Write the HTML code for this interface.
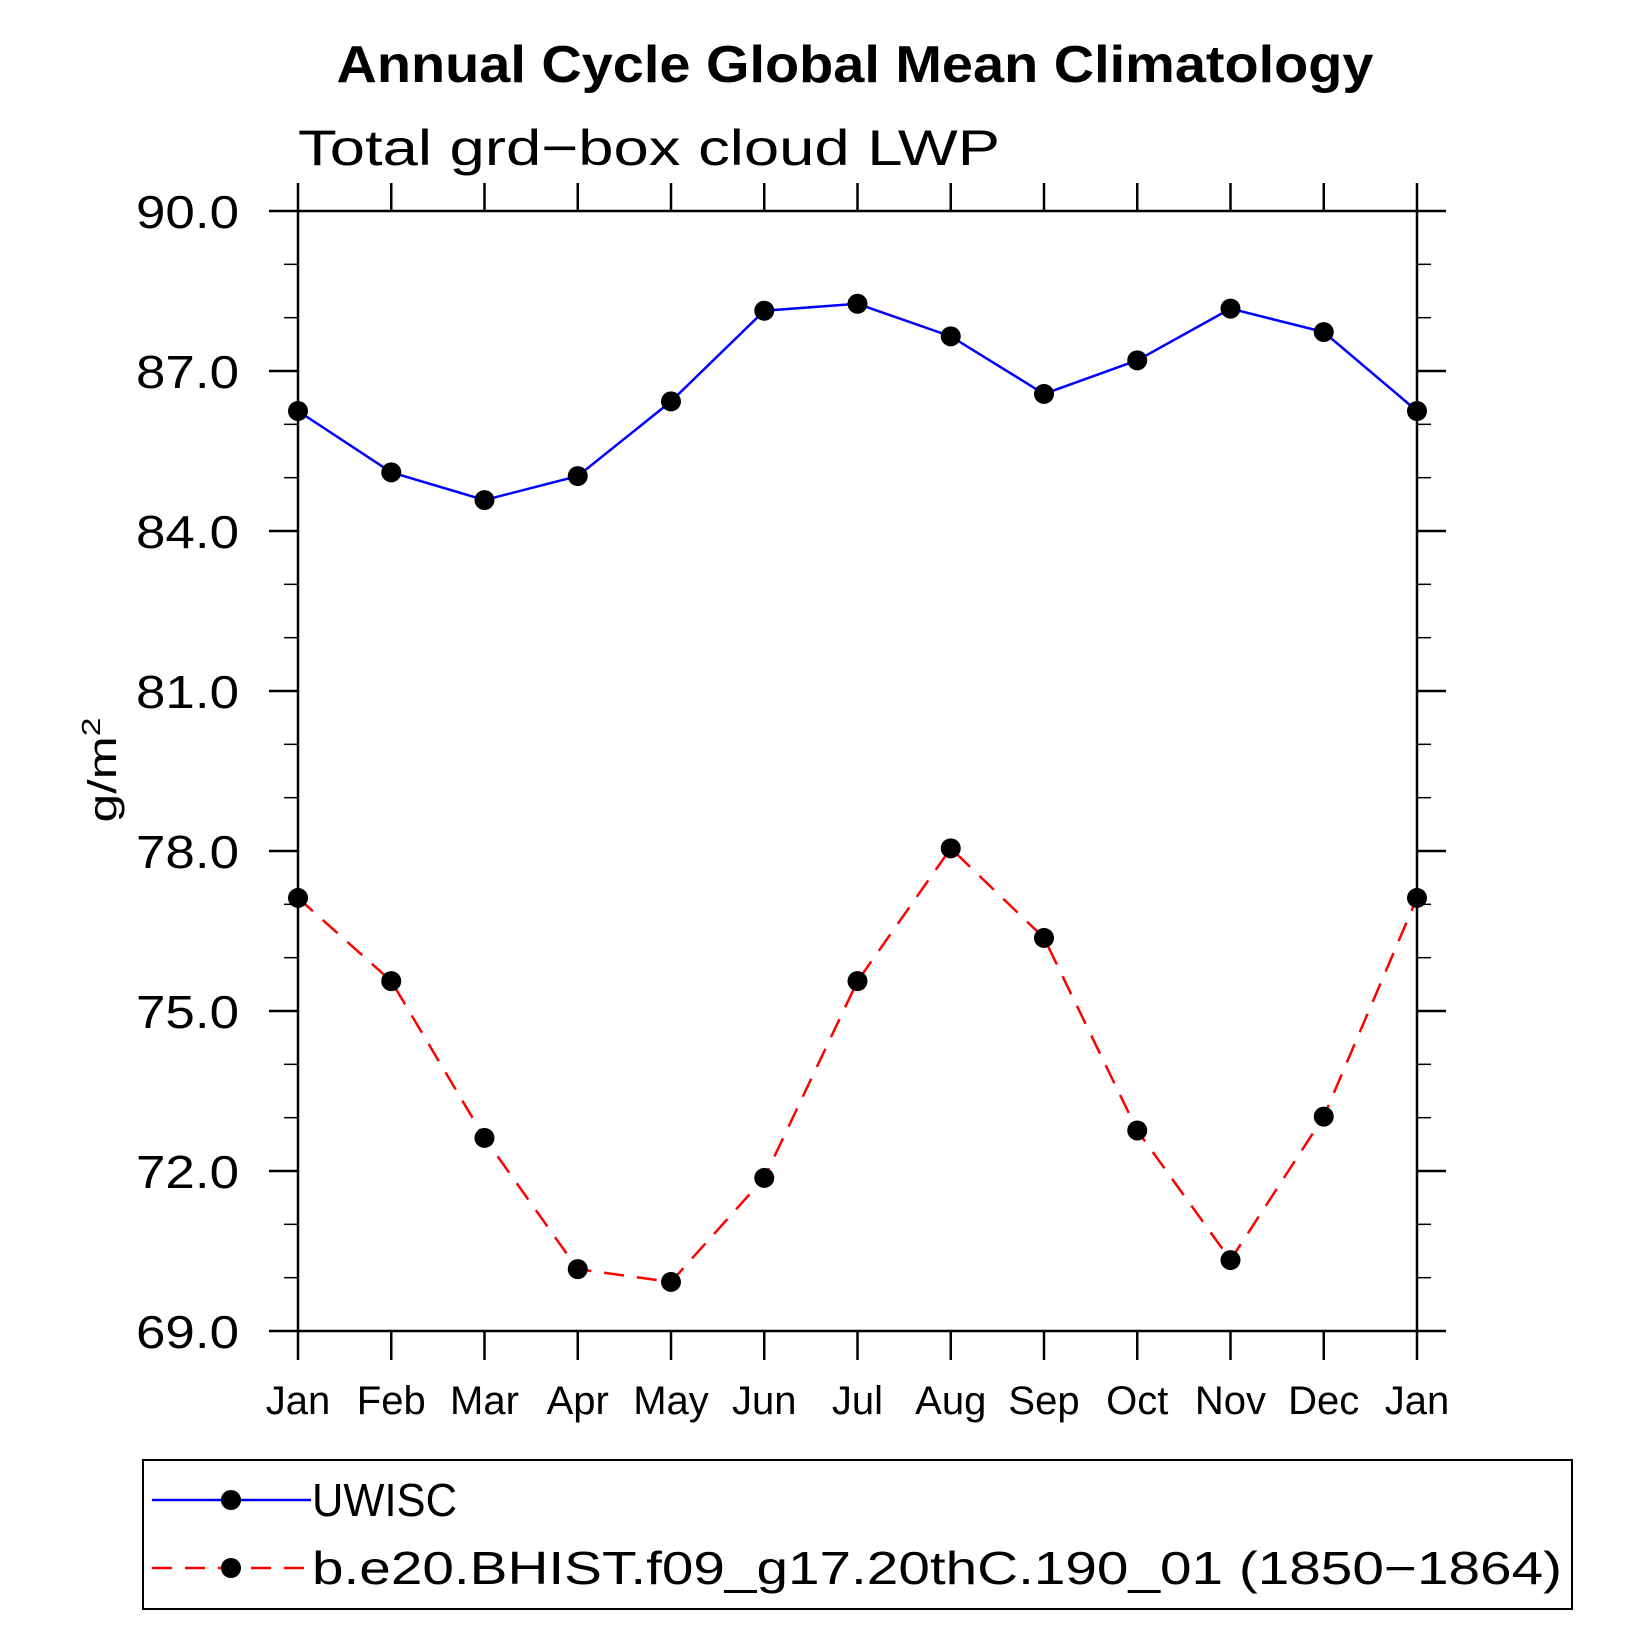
<!DOCTYPE html>
<html><head><meta charset="utf-8"><style>
html,body{margin:0;padding:0;background:#fff;}
svg{display:block;font-family:"Liberation Sans",sans-serif;}
</style></head><body>
<svg id="chart" width="1647" height="1647" viewBox="0 0 1647 1647">
<text x="855" y="82" text-anchor="middle" font-size="52" font-weight="bold" textLength="1037" lengthAdjust="spacingAndGlyphs">Annual Cycle Global Mean Climatology</text>
<text x="298" y="165" font-size="50" textLength="702" lengthAdjust="spacingAndGlyphs">Total grd−box cloud LWP</text>
<text transform="translate(116,770) rotate(-90)" text-anchor="middle" font-size="40" textLength="105" lengthAdjust="spacingAndGlyphs">g/m<tspan dy="-16" font-size="26">2</tspan></text>
<g id="axes"></g>
<g id="series"></g>
<rect x="143" y="1460" width="1429" height="149" fill="none" stroke="#000" stroke-width="2"/>
<g>
<line x1="152" y1="1500" x2="311" y2="1500" stroke="#00f" stroke-width="2.5"/>
<circle cx="231" cy="1500" r="10" fill="#000"/>
<text x="312" y="1516" font-size="46" textLength="145" lengthAdjust="spacingAndGlyphs">UWISC</text>
</g>
<g>
<line x1="152" y1="1568" x2="311" y2="1568" stroke="#f00" stroke-width="2.5" stroke-dasharray="20,13"/>
<circle cx="231" cy="1568" r="10" fill="#000"/>
<text x="312" y="1584" font-size="46" textLength="1250" lengthAdjust="spacingAndGlyphs">b.e20.BHIST.f09_g17.20thC.190_01 (1850−1864)</text>
</g>
</svg>
<script>
const months = ["Jan","Feb","Mar","Apr","May","Jun","Jul","Aug","Sep","Oct","Nov","Dec","Jan"];
const uwisc = [86.25,85.1,84.58,85.03,86.43,88.13,88.26,87.65,86.57,87.2,88.17,87.73,86.25];
const model = [77.12,75.56,72.62,70.16,69.92,71.87,75.56,78.05,76.37,72.76,70.33,73.02,77.12];
const yTicks = [69,72,75,78,81,84,87,90];
const yTickLabels = ["69.0","72.0","75.0","78.0","81.0","84.0","87.0","90.0"];

const NS="http://www.w3.org/2000/svg";
const L=298,R=1417,T=211,B=1331,ymin=69,ymax=90;
const xs=i=>L+(R-L)*i/(months.length-1);
const ys=v=>B-(B-T)*(v-ymin)/(ymax-ymin);
function mk(tag,attrs,parent){const e=document.createElementNS(NS,tag);for(const k in attrs)e.setAttribute(k,attrs[k]);parent.appendChild(e);return e;}
const ax=document.getElementById('axes');
const frame=mk('rect',{x:L,y:T,width:R-L,height:B-T,fill:'none',stroke:'#000','stroke-width':2.5},ax);


months.forEach((m,i)=>{
  const x=xs(i);
  const t1=mk('line',{x1:x,y1:B,x2:x,y2:B+29,stroke:'#000','stroke-width':2.5},ax);
  
  
  const t2=mk('line',{x1:x,y1:T,x2:x,y2:T-28,stroke:'#000','stroke-width':2.5},ax);
  
  
  const lb=mk('text',{x:x,y:1414,'text-anchor':'middle','font-size':40},ax);
  lb.textContent=m;
  
  
});
for(let v=ymin;v<=ymax+0.001;v+=1){
  const y=ys(v);const major=Math.abs((v-ymin)%3)<0.001;const len=major?29:14;
  const a=mk('line',{x1:L-len,y1:y,x2:L,y2:y,stroke:'#000','stroke-width':major?2.5:1.5},ax);
  
  
  const b=mk('line',{x1:R,y1:y,x2:R+len,y2:y,stroke:'#000','stroke-width':major?2.5:1.5},ax);
  
  
}
yTicks.forEach((v,i)=>{
  const t=mk('text',{x:239,y:ys(v)+17,'text-anchor':'end','font-size':46,textLength:103,lengthAdjust:'spacingAndGlyphs'},ax);
  t.textContent=yTickLabels[i];
  
  
});
const sg=document.getElementById('series');
function drawSeries(vals,color,dash,name){
  const pts=vals.map((v,i)=>xs(i)+','+ys(v)).join(' ');
  const pl=mk('polyline',{points:pts,fill:'none',stroke:color,'stroke-width':2.5},sg);
  if(dash)pl.setAttribute('stroke-dasharray',dash);
  
  
  vals.forEach((v,i)=>{
    const c=mk('circle',{cx:xs(i),cy:ys(v),r:10,fill:'#000'},sg);
    
    
  });
}
drawSeries(uwisc,'#00f',null,'uwisc');
drawSeries(model,'#f00','20,13','model');
</script>
</body></html>
